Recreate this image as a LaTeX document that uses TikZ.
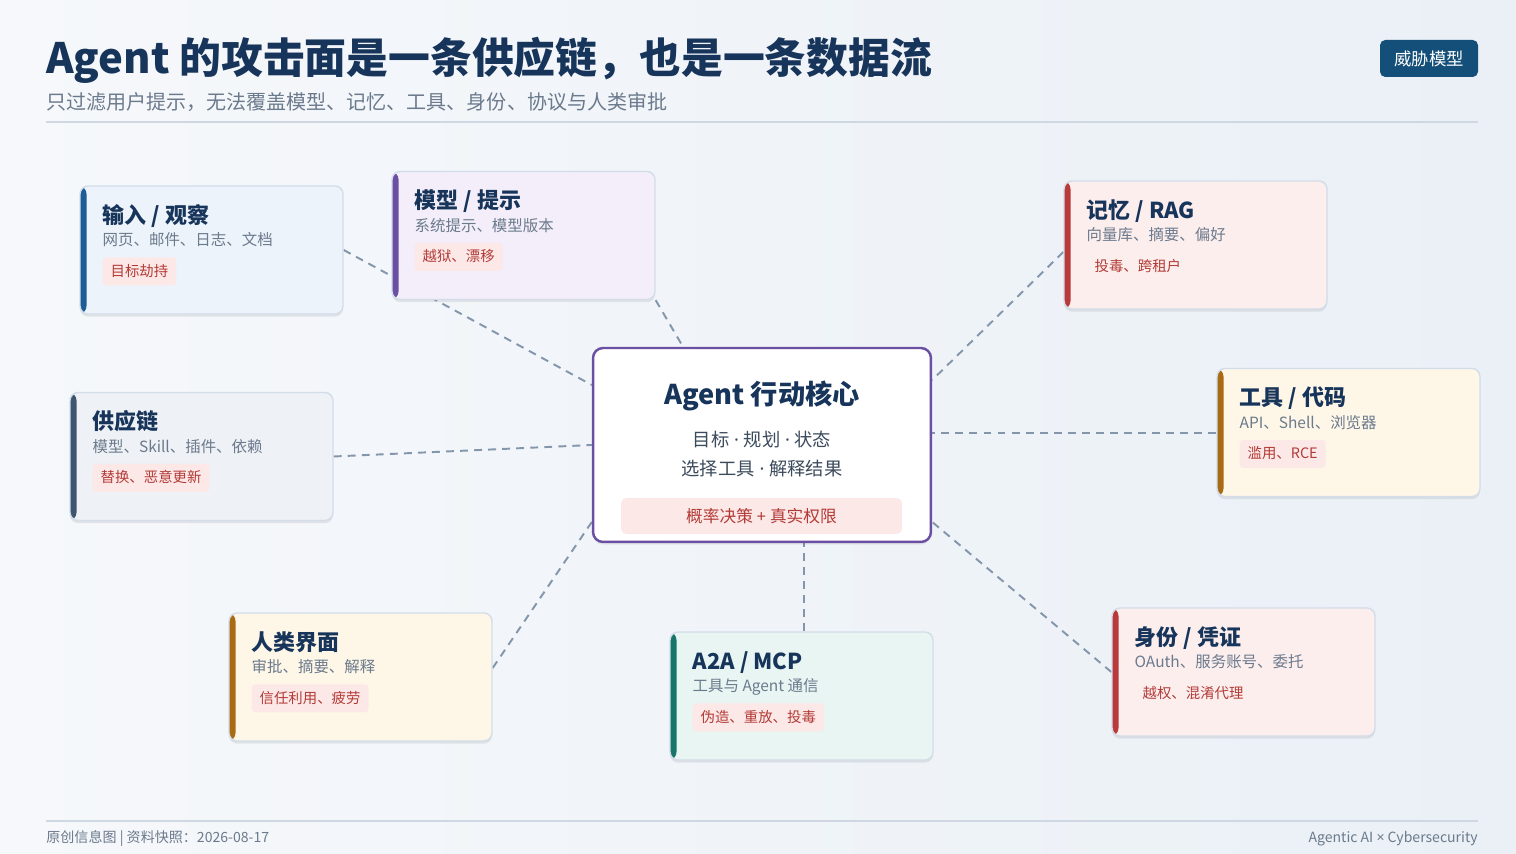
\documentclass[tikz,border=0pt]{standalone}
\usepackage{fontspec}
\setmainfont{Noto Sans CJK SC}
\newfontfamily\latinfont{Noto Sans}
\usetikzlibrary{shadows,calc}
\definecolor{bgl}{HTML}{F6F8FB}
\definecolor{bgr}{HTML}{EAF0F6}
\definecolor{navy}{HTML}{17345A}
\definecolor{subgray}{HTML}{6B7A8C}
\definecolor{rulec}{HTML}{CFD8E2}
\definecolor{badge}{HTML}{134F78}
\definecolor{cardline}{HTML}{D2DDE9}
\definecolor{tagbg}{HTML}{FDE8E8}
\definecolor{tagred}{HTML}{B23B36}
\definecolor{linkc}{HTML}{8396AC}
\definecolor{coreline}{HTML}{6B4FA3}
\definecolor{coretxt}{HTML}{3C4B5C}
\definecolor{blueacc}{HTML}{1D5C96}
\definecolor{purpacc}{HTML}{6B4FA3}
\definecolor{redacc}{HTML}{B83A3A}
\definecolor{ambacc}{HTML}{A86B14}
\definecolor{slateacc}{HTML}{3E5670}
\definecolor{tealacc}{HTML}{177667}
\definecolor{bluefill}{HTML}{ECF3FA}
\definecolor{purpfill}{HTML}{F3EEF9}
\definecolor{redfill}{HTML}{FDEEEE}
\definecolor{ambfill}{HTML}{FEF7E8}
\definecolor{slatefill}{HTML}{EEF1F5}
\definecolor{tealfill}{HTML}{E8F5F2}
\newcommand{\mdot}{{\latinfont\ ·\ }}
\pgfdeclarelayer{back}
\pgfdeclarelayer{links}
\pgfsetlayers{back,links,main}
\tikzset{
    every node/.style={align=left,inner sep=0pt,},
    card/.style={draw=cardline,line width=0.8pt,rounded corners=0.16cm,
        minimum width=5.26cm,minimum height=2.56cm,
        drop shadow={shadow xshift=0pt,shadow yshift=-1.5pt,opacity=0.08,fill=black},},
    bar/.style={path picture={\fill[#1] (path picture bounding box.north west)
        rectangle ([xshift=0.13cm]path picture bounding box.south west);},},
    ctitle/.style={anchor=base west,font=\bfseries\fontsize{12.5}{14}\selectfont,text=navy,},
    csub/.style={anchor=base west,font=\fontsize{8.8}{10}\selectfont,text=subgray,},
    tag/.style={anchor=base west,fill=tagbg,text=tagred,rounded corners=2pt,
        inner xsep=0.16cm,inner ysep=0.12cm,text height=0.26cm,text depth=0.06cm,
        font=\fontsize{8.2}{10}\selectfont,},
    link/.style={draw=linkc,line width=1.1pt,dash pattern=on 4.5pt off 3.5pt,},
}
\begin{document}
\begin{tikzpicture}[x=0.02cm,y=-0.02cm]
    \begin{pgfonlayer}{back}
        \shade[left color=bgl,right color=bgr] (0,0) rectangle (1516,854);
    \end{pgfonlayer}
    \useasboundingbox (0,0) rectangle (1516,854);

    % header
    \node[anchor=base west,font=\bfseries\fontsize{23.8}{28}\selectfont,text=navy] (title) at (46,74) {Agent 的攻击面是一条供应链，也是一条数据流};
    \node[anchor=base west,font=\fontsize{11.4}{14}\selectfont,text=subgray] (subtitle) at (46,110) {只过滤用户提示，无法覆盖模型、记忆、工具、身份、协议与人类审批};
    \draw[rulec,line width=1.1pt] (46,122) -- (1478,122);
    \node[fill=badge,text=white,rounded corners=3pt,minimum width=1.96cm,minimum height=0.74cm,
        font=\fontsize{9.9}{12}\selectfont] (badge) at (1429,58.5) {威胁模型};

    % core
    \node[fill=white,draw=coreline,line width=1.4pt,rounded corners=0.2cm,
        minimum width=6.76cm,minimum height=3.88cm,
        drop shadow={shadow xshift=0pt,shadow yshift=-1.5pt,opacity=0.06,fill=black}] (core) at (762,445) {};
    \node[anchor=base,font=\bfseries\fontsize{15.5}{18}\selectfont,text=navy] (core-t) at (762,405) {Agent 行动核心};
    \node[anchor=base,font=\fontsize{10.4}{12}\selectfont,text=coretxt] (core-a) at (762,447) {目标\mdot 规划\mdot 状态};
    \node[anchor=base,font=\fontsize{10.4}{12}\selectfont,text=coretxt] (core-b) at (762,476) {选择工具\mdot 解释结果};
    \node[fill=tagbg,rounded corners=3pt,minimum width=5.62cm,minimum height=0.72cm] (core-tag) at (761.5,516) {};
    \node[anchor=base,font=\fontsize{9.5}{12}\selectfont,text=tagred] (core-g) at (761.5,523) {概率决策 {\latinfont +} 真实权限};

    % cards
    \node[card,fill=bluefill,bar=blueacc] (in) at (211.5,250) {};
    \node[ctitle] (in-t) at ([xshift=0.46cm,yshift=-0.76cm]in.north west) {输入 / 观察};
    \node[csub] (in-s) at ([xshift=0.46cm,yshift=-1.21cm]in.north west) {网页、邮件、日志、文档};
    \node[tag] (in-g) at ([xshift=0.46cm,yshift=-1.82cm]in.north west) {目标劫持};

    \node[card,fill=purpfill,bar=purpacc] (model) at (523.5,235.5) {};
    \node[ctitle] (model-t) at ([xshift=0.46cm,yshift=-0.76cm]model.north west) {模型 / 提示};
    \node[csub] (model-s) at ([xshift=0.46cm,yshift=-1.21cm]model.north west) {系统提示、模型版本};
    \node[tag] (model-g) at ([xshift=0.46cm,yshift=-1.82cm]model.north west) {越狱、漂移};

    \node[card,fill=redfill,bar=redacc] (mem) at (1195.5,245) {};
    \node[ctitle] (mem-t) at ([xshift=0.46cm,yshift=-0.76cm]mem.north west) {记忆 / RAG};
    \node[csub] (mem-s) at ([xshift=0.46cm,yshift=-1.21cm]mem.north west) {向量库、摘要、偏好};
    \node[tag,fill=redfill] (mem-g) at ([xshift=0.46cm,yshift=-1.82cm]mem.north west) {投毒、跨租户};

    \node[card,fill=ambfill,bar=ambacc] (tool) at (1348.5,432.5) {};
    \node[ctitle] (tool-t) at ([xshift=0.46cm,yshift=-0.76cm]tool.north west) {工具 / 代码};
    \node[csub] (tool-s) at ([xshift=0.46cm,yshift=-1.21cm]tool.north west) {API、Shell、浏览器};
    \node[tag] (tool-g) at ([xshift=0.46cm,yshift=-1.82cm]tool.north west) {滥用、RCE};

    \node[card,fill=slatefill,bar=slateacc] (supply) at (201.5,456.5) {};
    \node[ctitle] (supply-t) at ([xshift=0.46cm,yshift=-0.76cm]supply.north west) {供应链};
    \node[csub] (supply-s) at ([xshift=0.46cm,yshift=-1.21cm]supply.north west) {模型、Skill、插件、依赖};
    \node[tag] (supply-g) at ([xshift=0.46cm,yshift=-1.82cm]supply.north west) {替换、恶意更新};

    \node[card,fill=ambfill,bar=ambacc] (human) at (360.5,677) {};
    \node[ctitle] (human-t) at ([xshift=0.46cm,yshift=-0.76cm]human.north west) {人类界面};
    \node[csub] (human-s) at ([xshift=0.46cm,yshift=-1.21cm]human.north west) {审批、摘要、解释};
    \node[tag] (human-g) at ([xshift=0.46cm,yshift=-1.82cm]human.north west) {信任利用、疲劳};

    \node[card,fill=tealfill,bar=tealacc] (a2a) at (801.5,696) {};
    \node[ctitle] (a2a-t) at ([xshift=0.46cm,yshift=-0.76cm]a2a.north west) {A2A / MCP};
    \node[csub] (a2a-s) at ([xshift=0.46cm,yshift=-1.21cm]a2a.north west) {工具与 Agent 通信};
    \node[tag] (a2a-g) at ([xshift=0.46cm,yshift=-1.82cm]a2a.north west) {伪造、重放、投毒};

    \node[card,fill=redfill,bar=redacc] (id) at (1243.5,672) {};
    \node[ctitle] (id-t) at ([xshift=0.46cm,yshift=-0.76cm]id.north west) {身份 / 凭证};
    \node[csub] (id-s) at ([xshift=0.46cm,yshift=-1.21cm]id.north west) {OAuth、服务账号、委托};
    \node[tag,fill=redfill] (id-g) at ([xshift=0.46cm,yshift=-1.82cm]id.north west) {越权、混淆代理};

    % links
    \begin{pgfonlayer}{links}
        \draw[link] (in.east) -- ([yshift=1.2cm]core.west);
        \draw[link] (model.south east) -- ([xshift=-1.58cm]core.north);
        \draw[link] ([yshift=-0.14cm]mem.west) -- ([yshift=1.3cm]core.east);
        \draw[link] ([yshift=-0.01cm]tool.west) -- ([yshift=-0.01cm]tool.west -| core.east);
        \draw[link] (supply.east) -- (core.west);
        \draw[link] ([yshift=0.18cm]human.east) -- ([yshift=-1.54cm]core.west);
        \draw[link] ([xshift=0.05cm]a2a.north) -- ([xshift=0.05cm]a2a.north |- core.south);
        \draw[link] (id.west) -- ([yshift=-1.54cm]core.east);
    \end{pgfonlayer}

    % footer
    \draw[rulec,line width=0.8pt] (46,821) -- (1478,821);
    \node[anchor=base west,font=\fontsize{8}{10}\selectfont,text=subgray] (foot-l) at (46,843) {原创信息图 | 资料快照：2026-08-17};
    \node[anchor=base east,font=\fontsize{8}{10}\selectfont,text=subgray] (foot-r) at (1478,843) {Agentic AI {\latinfont ×} Cybersecurity};
\end{tikzpicture}
\end{document}
